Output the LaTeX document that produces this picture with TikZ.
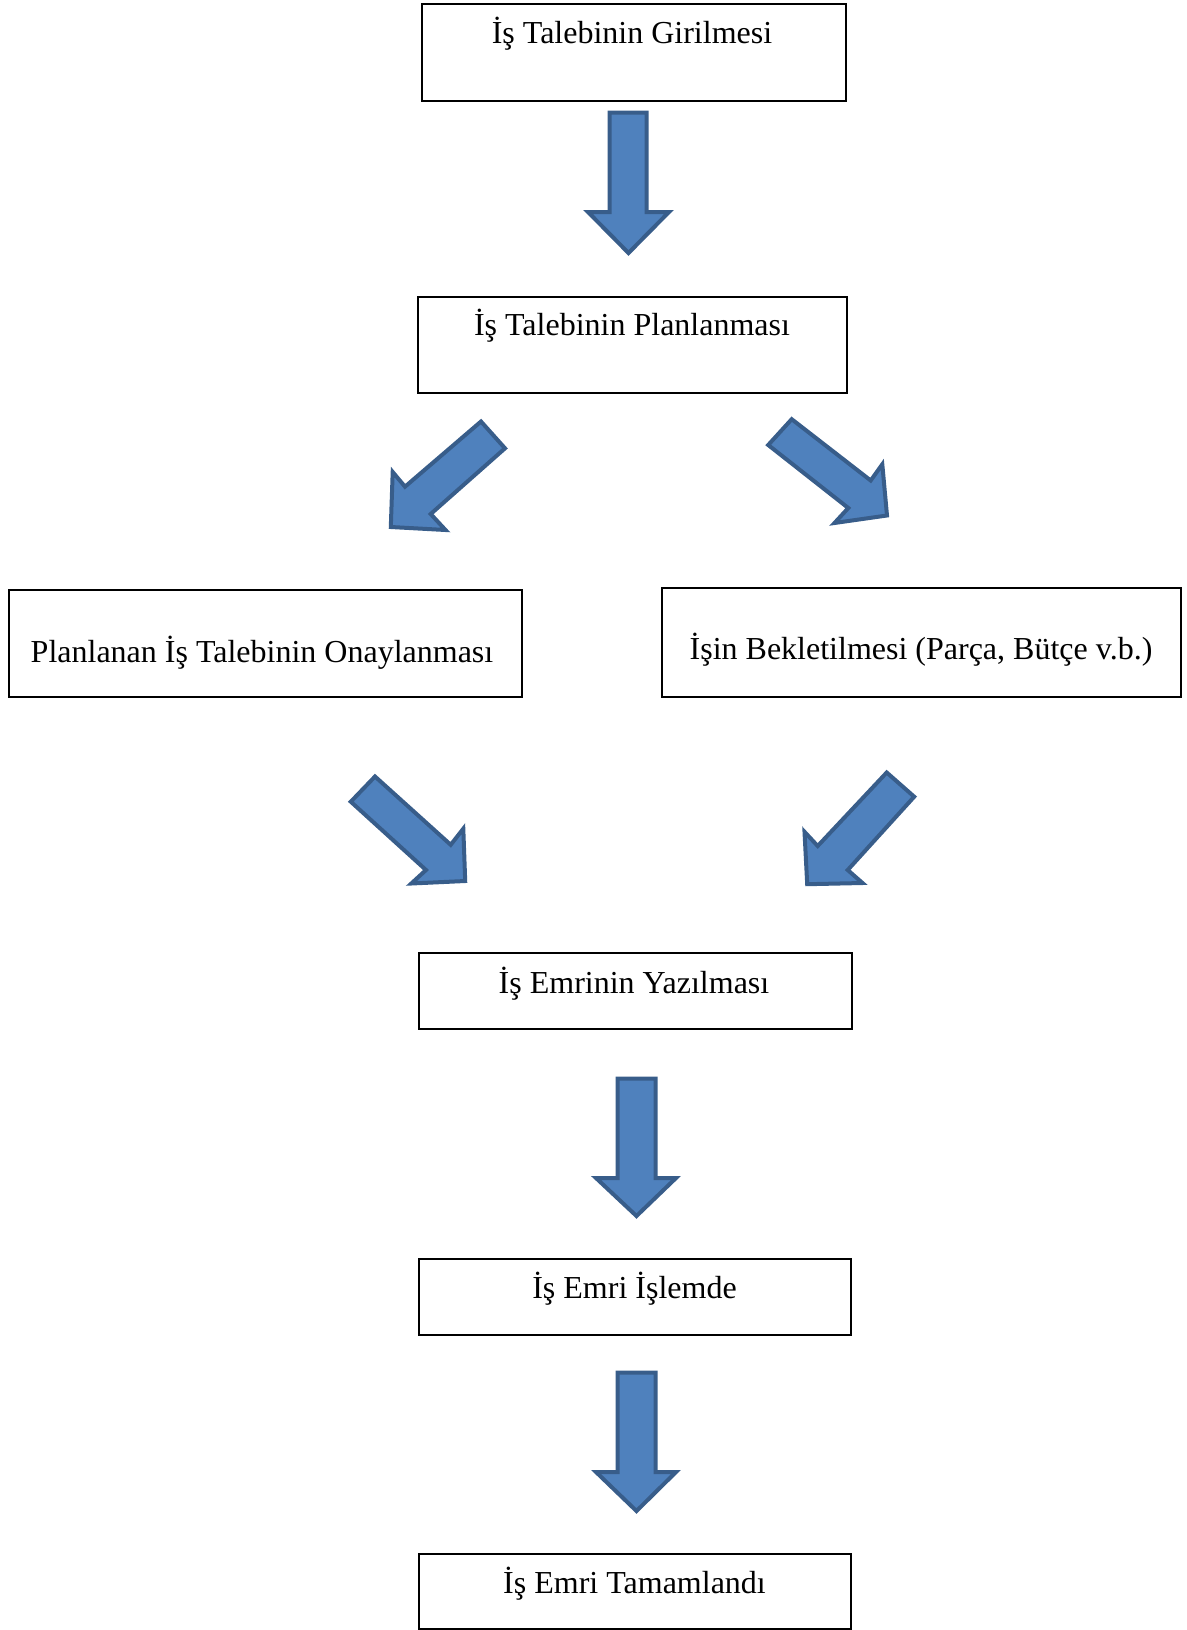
\documentclass[tikz,border=0pt]{standalone}
\usepackage{fontspec}
\setmainfont{Liberation Serif}
\definecolor{arrowfill}{HTML}{4F81BD}
\definecolor{arrowline}{HTML}{385D8A}
\begin{document}
\begin{tikzpicture}[x=1pt,y=-1pt,
  box/.style={draw=black, line width=2pt, inner sep=0pt, rectangle},
  boxtext/.style={anchor=base, inner sep=0pt, font=\fontsize{32}{38}\selectfont},
  blockarrow/.style={fill=arrowfill, draw=arrowline, line width=4pt, line join=miter}]
\useasboundingbox (0,0) rectangle (1186,1630);

% boxes
\node[box, minimum width=424pt, minimum height=97pt] (b1) at (633.5,52.5) {};
\node[box, minimum width=429pt, minimum height=96pt] (b2) at (632,345) {};
\node[box, minimum width=513pt, minimum height=107pt] (b3) at (265,643) {};
\node[box, minimum width=519pt, minimum height=109pt] (b4) at (921,642) {};
\node[box, minimum width=433pt, minimum height=76pt] (b5) at (635,990.5) {};
\node[box, minimum width=432pt, minimum height=76pt] (b6) at (634.5,1296.5) {};
\node[box, minimum width=432pt, minimum height=75pt] (b7) at (634.5,1591) {};

% texts
\node[boxtext] (t1) at (632,43) {İş Talebinin Girilmesi};
\node[boxtext] (t2) at (632,335) {İş Talebinin Planlanması};
\node[boxtext] (t3) at (262,662) {Planlanan İş Talebinin Onaylanması};
\node[boxtext] (t4) at (921,659) {İşin Bekletilmesi (Parça, Bütçe v.b.)};
\node[boxtext] (t5) at (634,993) {İş Emrinin Yazılması};
\node[boxtext] (t6) at (634.5,1298) {İş Emri İşlemde};
\node[boxtext] (t7) at (634.5,1593) {İş Emri Tamamlandı};

% down arrows
\draw[blockarrow] (609.5,112.5) -- (646.5,112.5) -- (646.5,212) -- (669,212) -- (628.5,253) -- (588,212) -- (609.5,212) -- cycle;
\draw[blockarrow] (617.5,1078.5) -- (655.5,1078.5) -- (655.5,1178) -- (676,1178) -- (636.5,1216) -- (596,1178) -- (617.5,1178) -- cycle;
\draw[blockarrow] (617.5,1372.5) -- (655.5,1372.5) -- (655.5,1472) -- (676,1472) -- (636.5,1511) -- (596,1472) -- (617.5,1472) -- cycle;

% upper-left arrow
\draw[blockarrow] (481,421.5) -- (505,448.3) -- (430.7,514) -- (445.5,530) -- (390.8,527) -- (392.7,472) -- (405,486.7) -- cycle;
% upper-right arrow
\draw[blockarrow] (791.7,419.2) -- (870.7,480.5) -- (882.3,464.3) -- (887,515.5) -- (834.5,523) -- (848.3,508) -- (768.2,445) -- cycle;
% lower-left arrow
\draw[blockarrow] (375,776.5) -- (450.7,844.8) -- (463.3,828.7) -- (465.2,881) -- (411.3,883.5) -- (426,870) -- (350.8,801.7) -- cycle;
% lower-right arrow
\draw[blockarrow] (886.7,772.5) -- (914.2,796.7) -- (847.7,870) -- (862.5,883) -- (807.2,884.2) -- (804.5,831.8) -- (817.7,846) -- cycle;
\end{tikzpicture}
\end{document}
